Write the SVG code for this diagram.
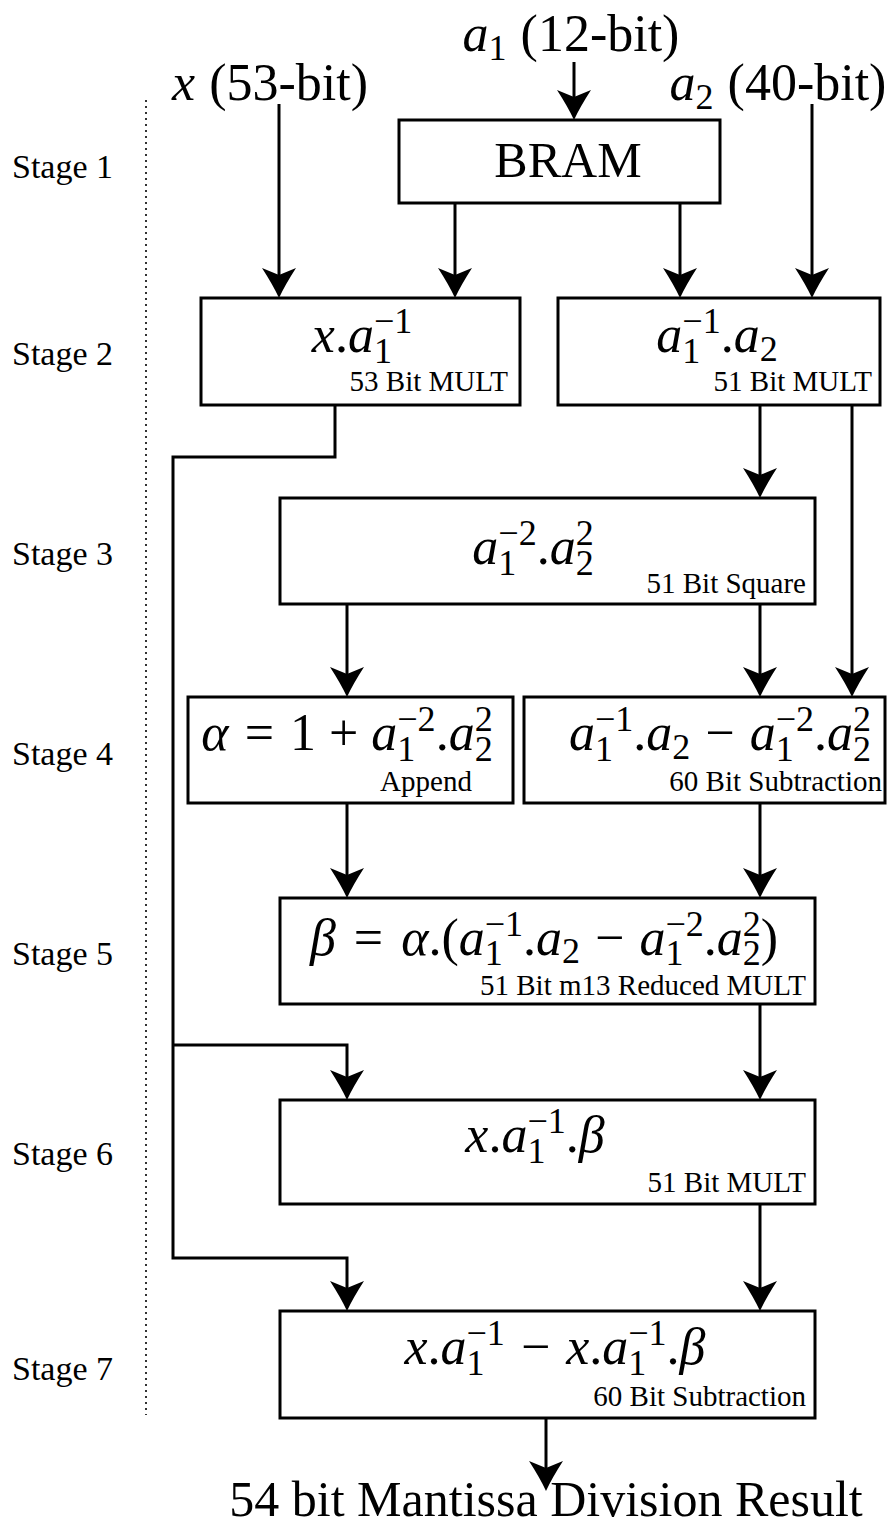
<svg xmlns="http://www.w3.org/2000/svg" width="892" height="1533" viewBox="0 0 892 1533">
  <style>
    text { font-family: "Liberation Serif", "Times New Roman", serif; fill: #000; }
    .f { font-size: 52px; }
    .i { font-style: italic; }
    .s { font-size: 36px; font-style: normal; }
    .lbl { font-size: 29px; }
    .stg { font-size: 34px; }
    .b { fill: #fff; stroke: #000; stroke-width: 3; }
    .c { fill: none; stroke: #000; stroke-width: 3; stroke-linejoin: miter; marker-end: url(#ah); }
  </style>
  <defs>
    <marker id="ah" viewBox="-32 -18 34 36" refX="-4" refY="0" markerWidth="34" markerHeight="36" markerUnits="userSpaceOnUse" orient="auto">
      <path d="M0,0 Q-13,-6 -30,-17 L-23,0 L-30,17 Q-13,6 0,0 Z" fill="#000"/>
    </marker>
  </defs>

  <!-- pipeline stage column -->
  <g id="stages">
    <line x1="146" y1="100" x2="146" y2="1415" stroke="#000" stroke-width="1.6" stroke-dasharray="2 4"/>
    <text class="stg" x="12" y="178">Stage 1</text>
    <text class="stg" x="12" y="365">Stage 2</text>
    <text class="stg" x="12" y="565">Stage 3</text>
    <text class="stg" x="12" y="765">Stage 4</text>
    <text class="stg" x="12" y="965">Stage 5</text>
    <text class="stg" x="12" y="1165">Stage 6</text>
    <text class="stg" x="12" y="1380">Stage 7</text>
  </g>

  <!-- inputs -->
  <g id="in-a1">
    <text class="f" x="571" y="51" text-anchor="middle"><tspan class="i">a</tspan><tspan class="s" dy="9">1</tspan><tspan dx="14" dy="-9">(12-bit)</tspan></text>
  </g>
  <g id="in-x">
    <text class="f" x="270" y="100" text-anchor="middle"><tspan class="i">x</tspan><tspan dx="14">(53-bit)</tspan></text>
  </g>
  <g id="in-a2">
    <text class="f" x="778" y="100" text-anchor="middle"><tspan class="i">a</tspan><tspan class="s" dy="9">2</tspan><tspan dx="14" dy="-9">(40-bit)</tspan></text>
  </g>

  <!-- stage 1 -->
  <g id="bram">
    <rect class="b" x="399" y="120" width="321" height="83"/>
    <text x="568" y="177" font-size="50" text-anchor="middle">BRAM</text>
  </g>

  <!-- stage 2 -->
  <g id="mult-x-inv">
    <rect class="b" x="201" y="298" width="319" height="107"/>
    <text class="f" x="362" y="352" text-anchor="middle"><tspan class="i">x</tspan>.<tspan class="i">a</tspan><tspan class="s" dy="11">1</tspan><tspan class="s" dx="-18" dy="-30">−1</tspan></text>
    <text class="lbl" x="508" y="391" text-anchor="end">53 Bit MULT</text>
  </g>
  <g id="mult-inv-a2">
    <rect class="b" x="558" y="298" width="322" height="107"/>
    <text class="f" x="717" y="352" text-anchor="middle"><tspan class="i">a</tspan><tspan class="s" dy="11">1</tspan><tspan class="s" dx="-18" dy="-30">−1</tspan><tspan dy="19">.</tspan><tspan class="i">a</tspan><tspan class="s" dy="9">2</tspan></text>
    <text class="lbl" x="872" y="391" text-anchor="end">51 Bit MULT</text>
  </g>

  <!-- stage 3 -->
  <g id="square">
    <rect class="b" x="280" y="498" width="535" height="106"/>
    <text class="f" x="533" y="564" text-anchor="middle"><tspan class="i">a</tspan><tspan class="s" dy="11">1</tspan><tspan class="s" dx="-18" dy="-30">−2</tspan><tspan dy="19">.</tspan><tspan class="i">a</tspan><tspan class="s" dy="11">2</tspan><tspan class="s" dx="-18" dy="-30">2</tspan></text>
    <text class="lbl" x="806" y="593" text-anchor="end">51 Bit Square</text>
  </g>

  <!-- stage 4 -->
  <g id="append">
    <rect class="b" x="188" y="697" width="325" height="106"/>
    <text class="f" x="347" y="750" text-anchor="middle"><tspan class="i">α</tspan><tspan dx="16">=</tspan><tspan dx="16">1</tspan><tspan dx="13">+</tspan><tspan class="i" dx="13">a</tspan><tspan class="s" dy="11">1</tspan><tspan class="s" dx="-18" dy="-30">−2</tspan><tspan dy="19">.</tspan><tspan class="i">a</tspan><tspan class="s" dy="11">2</tspan><tspan class="s" dx="-18" dy="-30">2</tspan></text>
    <text class="lbl" x="426" y="791" text-anchor="middle">Append</text>
  </g>
  <g id="sub60-a">
    <rect class="b" x="524" y="697" width="361" height="106"/>
    <text class="f" x="720" y="750" text-anchor="middle"><tspan class="i">a</tspan><tspan class="s" dy="11">1</tspan><tspan class="s" dx="-18" dy="-30">−1</tspan><tspan dy="19">.</tspan><tspan class="i">a</tspan><tspan class="s" dy="9">2</tspan><tspan dx="15" dy="-9">−</tspan><tspan class="i" dx="15">a</tspan><tspan class="s" dy="11">1</tspan><tspan class="s" dx="-18" dy="-30">−2</tspan><tspan dy="19">.</tspan><tspan class="i">a</tspan><tspan class="s" dy="11">2</tspan><tspan class="s" dx="-18" dy="-30">2</tspan></text>
    <text class="lbl" x="882" y="791" text-anchor="end">60 Bit Subtraction</text>
  </g>

  <!-- stage 5 -->
  <g id="beta">
    <rect class="b" x="280" y="898" width="535" height="106"/>
    <text class="f" x="544" y="955" text-anchor="middle"><tspan class="i">β</tspan><tspan dx="18">=</tspan><tspan class="i" dx="18">α</tspan>.(<tspan class="i">a</tspan><tspan class="s" dy="10">1</tspan><tspan class="s" dx="-18" dy="-29">−1</tspan><tspan dy="19">.</tspan><tspan class="i">a</tspan><tspan class="s" dy="8">2</tspan><tspan dx="15" dy="-8">−</tspan><tspan class="i" dx="15">a</tspan><tspan class="s" dy="10">1</tspan><tspan class="s" dx="-18" dy="-29">−2</tspan><tspan dy="19">.</tspan><tspan class="i">a</tspan><tspan class="s" dy="10">2</tspan><tspan class="s" dx="-18" dy="-29">2</tspan><tspan dy="19">)</tspan></text>
    <text class="lbl" x="806" y="995" text-anchor="end">51 Bit m13 Reduced MULT</text>
  </g>

  <!-- stage 6 -->
  <g id="mult-beta">
    <rect class="b" x="280" y="1100" width="535" height="104"/>
    <text class="f" x="535" y="1152" text-anchor="middle"><tspan class="i">x</tspan>.<tspan class="i">a</tspan><tspan class="s" dy="11">1</tspan><tspan class="s" dx="-18" dy="-30">−1</tspan><tspan dy="19">.</tspan><tspan class="i">β</tspan></text>
    <text class="lbl" x="806" y="1192" text-anchor="end">51 Bit MULT</text>
  </g>

  <!-- stage 7 -->
  <g id="sub60-b">
    <rect class="b" x="280" y="1311" width="535" height="107"/>
    <text class="f" x="555" y="1364" text-anchor="middle"><tspan class="i">x</tspan>.<tspan class="i">a</tspan><tspan class="s" dy="11">1</tspan><tspan class="s" dx="-18" dy="-30">−1</tspan><tspan dx="16" dy="19">−</tspan><tspan class="i" dx="16">x</tspan>.<tspan class="i">a</tspan><tspan class="s" dy="11">1</tspan><tspan class="s" dx="-18" dy="-30">−1</tspan><tspan dy="19">.</tspan><tspan class="i">β</tspan></text>
    <text class="lbl" x="806" y="1406" text-anchor="end">60 Bit Subtraction</text>
  </g>

  <!-- output -->
  <g id="result">
    <text x="546" y="1516" font-size="50" text-anchor="middle">54 bit Mantissa Division Result</text>
  </g>

  <!-- connectors -->
  <g id="connectors">
    <path class="c" d="M574 62 V116"/>
    <path class="c" d="M279 104 V294"/>
    <path class="c" d="M812 104 V294"/>
    <path class="c" d="M455 203 V294"/>
    <path class="c" d="M680 203 V294"/>
    <path class="c" d="M335 405 V457 H173 V1258 H347 V1307"/>
    <path class="c" d="M173 1045 H347 V1096"/>
    <path class="c" d="M760 405 V494"/>
    <path class="c" d="M852 405 V693"/>
    <path class="c" d="M347 604 V693"/>
    <path class="c" d="M760 604 V693"/>
    <path class="c" d="M347 803 V894"/>
    <path class="c" d="M760 803 V894"/>
    <path class="c" d="M760 1004 V1096"/>
    <path class="c" d="M760 1204 V1307"/>
    <path class="c" d="M546 1418 V1487"/>
  </g>
</svg>
